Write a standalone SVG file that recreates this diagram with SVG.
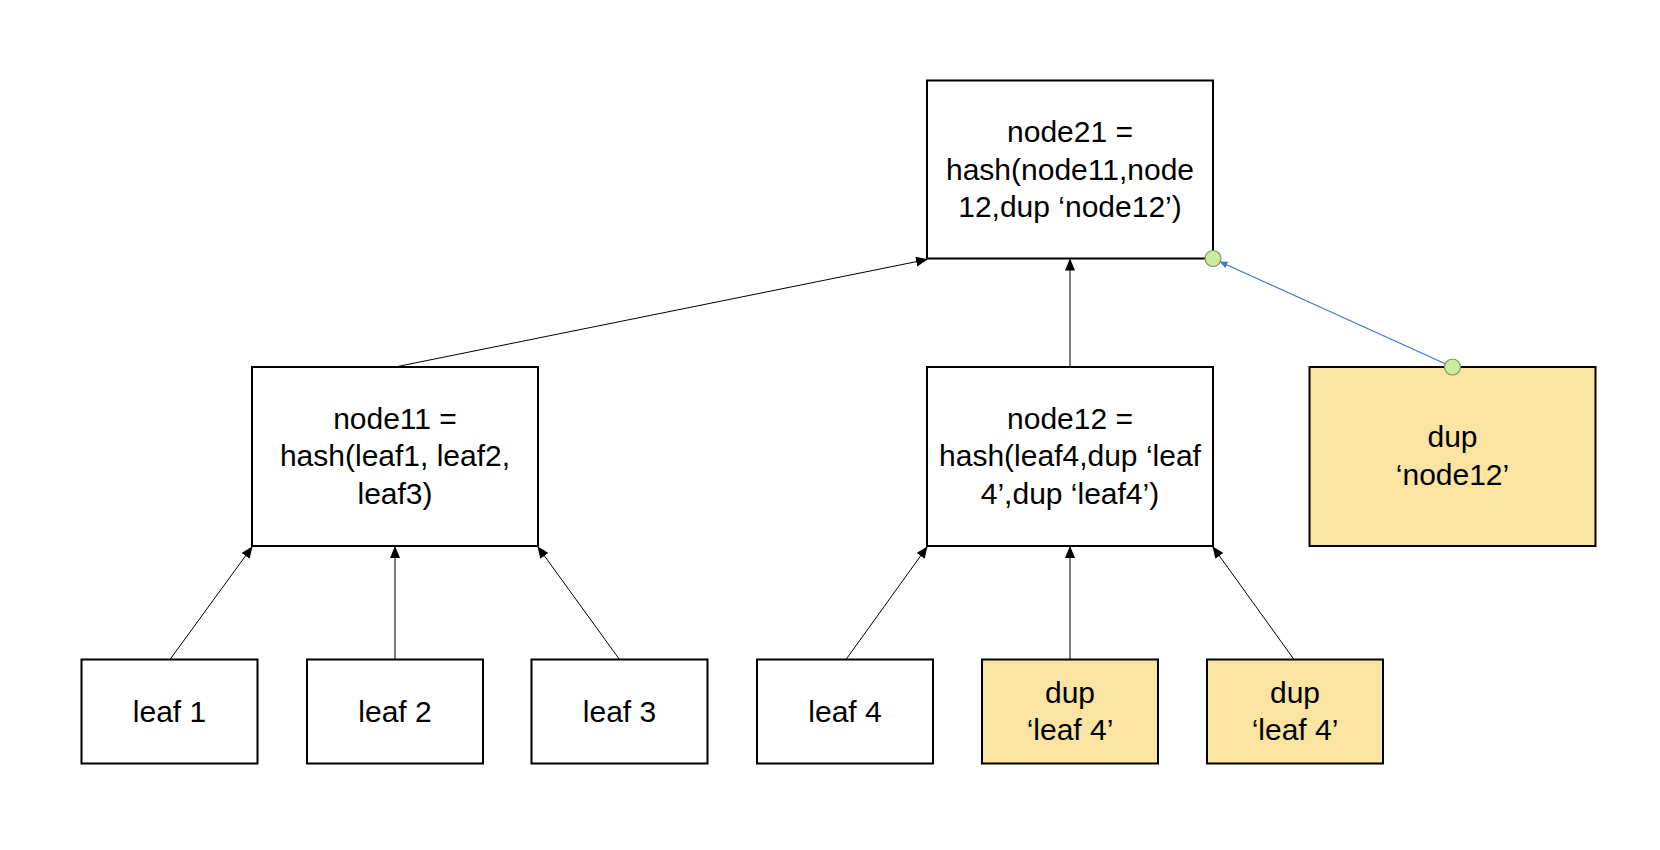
<svg xmlns="http://www.w3.org/2000/svg" width="1660" height="850" viewBox="0 0 1660 850">
<style>
.box{fill:#ffffff;stroke:#000000;stroke-width:2}
.dup{fill:#FAE4A1;stroke:#000000;stroke-width:2}
.t{font-family:"Liberation Sans",Arial,sans-serif;font-size:30px;fill:#000000;text-anchor:middle}
.c{stroke:#000000;stroke-width:1;fill:none;marker-end:url(#ah)}
.b{stroke:#4472C4;stroke-width:1.2;fill:none;marker-end:url(#bh)}
.dot{fill:#CDEB9E;stroke:#7F8F63;stroke-width:1.2}
</style>
<defs>
<marker id="ah" markerUnits="userSpaceOnUse" markerWidth="12" markerHeight="10" viewBox="0 0 12 10" refX="11" refY="5" orient="auto">
<path d="M0,0 L12,5 L0,10 Z" fill="#000000"/>
</marker>
<marker id="bh" markerUnits="userSpaceOnUse" markerWidth="8" markerHeight="7" viewBox="0 0 8 7" refX="7" refY="3.5" orient="auto">
<path d="M0,0 L8,3.5 L0,7 Z" fill="#4472C4"/>
</marker>
</defs>
<rect width="1660" height="850" fill="#ffffff"/>
<g id="connectors">
<line class="c" x1="170" y1="659.5" x2="252" y2="547"/>
<line class="c" x1="395" y1="659.5" x2="395" y2="547"/>
<line class="c" x1="619.5" y1="659.5" x2="538" y2="547"/>
<line class="c" x1="846" y1="659.5" x2="927" y2="547"/>
<line class="c" x1="1070" y1="659.5" x2="1070" y2="547"/>
<line class="c" x1="1294" y1="659.5" x2="1213" y2="547"/>
<line class="c" x1="395" y1="367" x2="927" y2="259.5"/>
<line class="c" x1="1070" y1="367" x2="1070" y2="259.5"/>
<line class="b" x1="1452.5" y1="367" x2="1220.5" y2="262"/>
</g>
<g id="node21">
<rect class="box" x="927" y="80.5" width="286" height="178"/>
<text class="t" x="1070" y="142">node21 =</text>
<text class="t" x="1070" y="179.5">hash(node11,node</text>
<text class="t" x="1070" y="217">12,dup ‘node12’)</text>
</g>
<g id="node11">
<rect class="box" x="252" y="367" width="286" height="179"/>
<text class="t" x="395" y="428.5">node11 =</text>
<text class="t" x="395" y="466">hash(leaf1, leaf2,</text>
<text class="t" x="395" y="503.5">leaf3)</text>
</g>
<g id="node12">
<rect class="box" x="927" y="367" width="286" height="179"/>
<text class="t" x="1070" y="428.5">node12 =</text>
<text class="t" x="1070" y="466">hash(leaf4,dup ‘leaf</text>
<text class="t" x="1070" y="503.5">4’,dup ‘leaf4’)</text>
</g>
<g id="dup-node12">
<rect class="dup" x="1309.5" y="367" width="286" height="179"/>
<text class="t" x="1452.5" y="447">dup</text>
<text class="t" x="1452.5" y="485">‘node12’</text>
</g>
<g id="leaf1">
<rect class="box" x="81.5" y="659.5" width="176" height="104"/>
<text class="t" x="169.5" y="722">leaf 1</text>
</g>
<g id="leaf2">
<rect class="box" x="307" y="659.5" width="176" height="104"/>
<text class="t" x="395" y="722">leaf 2</text>
</g>
<g id="leaf3">
<rect class="box" x="531.5" y="659.5" width="176" height="104"/>
<text class="t" x="619.5" y="722">leaf 3</text>
</g>
<g id="leaf4">
<rect class="box" x="757" y="659.5" width="176" height="104"/>
<text class="t" x="845" y="722">leaf 4</text>
</g>
<g id="dup-leaf4-a">
<rect class="dup" x="982" y="659.5" width="176" height="104"/>
<text class="t" x="1070" y="703">dup</text>
<text class="t" x="1070" y="740">‘leaf 4’</text>
</g>
<g id="dup-leaf4-b">
<rect class="dup" x="1207" y="659.5" width="176" height="104"/>
<text class="t" x="1295" y="703">dup</text>
<text class="t" x="1295" y="740">‘leaf 4’</text>
</g>
<g id="handles">
<circle class="dot" cx="1213" cy="258.5" r="8"/>
<circle class="dot" cx="1452.5" cy="367" r="8"/>
</g>
</svg>
